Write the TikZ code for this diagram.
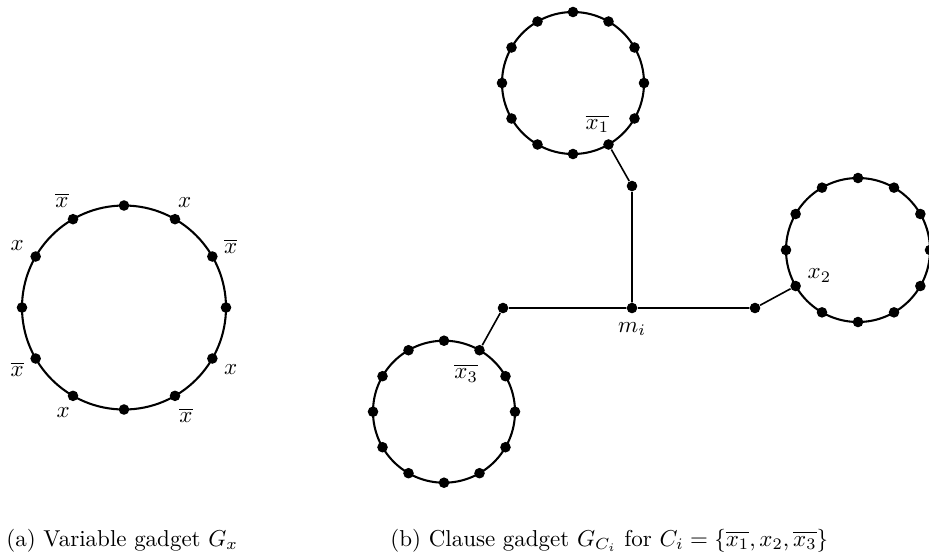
\documentclass[tikz,border=0pt]{standalone}
\usepackage{amsmath}
\usetikzlibrary{positioning}

\tikzset{
  vertex/.style={circle, fill=black, inner sep=0pt, minimum size=4.6pt},
  ring/.style={line width=0.9pt},
  edge/.style={line width=0.7pt},
  lbl/.style={inner sep=1.5pt},
}

\begin{document}
\begin{tikzpicture}[x=0.435pt, y=0.435pt]
  \useasboundingbox (0,0) rectangle (929,556);

  % (a) variable gadget
  \coordinate (gx) at (124,248.5);
  \draw[ring] (gx) circle (102);
  \foreach \i in {0,...,11}
    \node[vertex] (v\i) at ([shift={(\i*30:102)}]gx) {};
  \foreach \i/\t in {1/\overline{x}, 2/x, 4/\overline{x}, 5/x,
                     7/\overline{x}, 8/x, 10/\overline{x}, 11/x}
  {
    \pgfmathtruncatemacro\a{\i*30}
    \node[lbl, anchor=\a+180] (lv\i) at ([shift={(\a:4pt)}]v\i.center) {$\t$};
  }

  % (b) clause gadget
  \coordinate (c1) at (573,473);
  \coordinate (c2) at (858,306);
  \coordinate (c3) at (444,144.3);
  \foreach \c/\r in {1/71, 2/72, 3/71}
  {
    \draw[ring] (c\c) circle (\r);
    \foreach \i in {0,...,11}
      \node[vertex] (u\c-\i) at ([shift={(\i*30:\r)}]c\c) {};
  }

  \node[vertex] (m) at (632,248) {};
  \node[vertex] (a1) at (632,370) {};
  \node[vertex] (a2) at (755,248) {};
  \node[vertex] (a3) at (503,248) {};

  \draw[edge] (u1-10) -- (a1) -- (m) -- (a2) -- (u2-7);
  \draw[edge] (m) -- (a3) -- (u3-2);

  \node[lbl, anchor=south east] (l1) at ([xshift=2pt, yshift=1pt]u1-10.north) {$\overline{x_1}$};
  \node[lbl, anchor=south west] (l2) at ([xshift=1pt]u2-7.east) {$x_2$};
  \node[lbl, anchor=north east] (l3) at ([xshift=1pt, yshift=-2pt]u3-2.south) {$\overline{x_3}$};
  \node[lbl, anchor=north] (lm) at ([yshift=-2pt]m.south) {$m_i$};

  % captions
  \node[anchor=base west, inner sep=0pt] (capa) at (6,10) {(a) Variable gadget $G_x$};
  \node[anchor=base west, inner sep=0pt] (capb) at (390,10)
    {(b) Clause gadget $G_{C_i}$ for $C_i = \{\overline{x_1}, x_2, \overline{x_3}\}$};
\end{tikzpicture}
\end{document}
